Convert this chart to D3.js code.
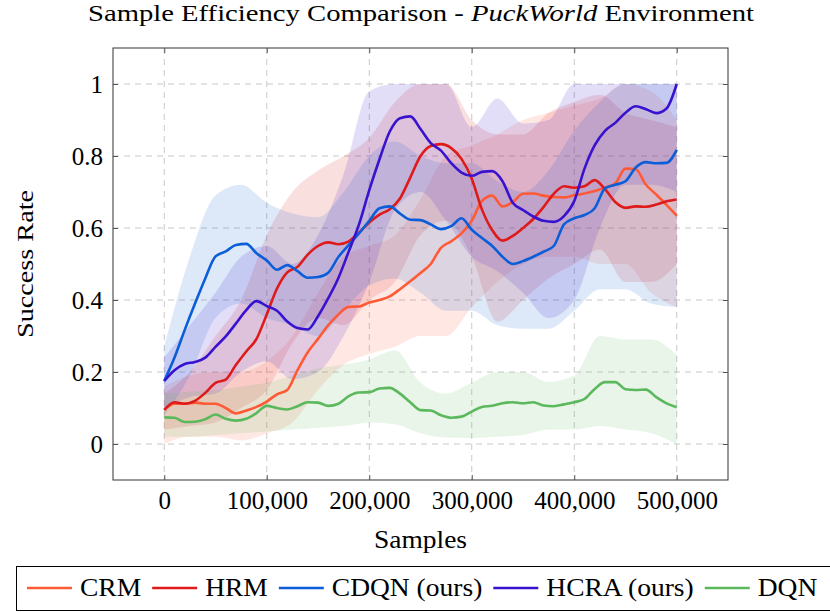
<!DOCTYPE html>
<html>
<head>
<meta charset="utf-8">
<script src="https://cdn.jsdelivr.net/npm/d3@7"></script>
<style>
  body { margin: 0; background: #fff; }
  text { font-family: "Liberation Serif", "DejaVu Serif", serif; fill: #000; }
</style>
</head>
<body>
<script>
var width = 830;
var height = 612;

// samples in thousands
var samplesK = [0,10,20,30,40,50,60,70,80,90,100,110,120,130,140,150,160,170,180,190,200,
  210,220,230,240,250,260,270,280,290,300,310,320,330,340,350,360,370,380,390,400,
  410,420,430,440,450,460,470,480,490,500];
var bandK = [0,25,50,75,100,125,150,175,200,225,250,275,300,325,350,375,400,425,450,475,500];

var crm = [0.095,0.112,0.112,0.115,0.112,0.112,0.1,0.085,0.093,0.103,0.118,0.138,0.15,0.205,0.255,0.292,0.33,0.36,0.381,0.382,0.393,
  0.4,0.41,0.43,0.452,0.475,0.5,0.545,0.563,0.585,0.62,0.675,0.69,0.66,0.672,0.695,0.696,0.69,0.686,0.685,0.691,
  0.696,0.703,0.712,0.724,0.765,0.763,0.72,0.693,0.664,0.634];
var hrm = [0.095,0.116,0.112,0.12,0.142,0.17,0.179,0.22,0.257,0.292,0.36,0.432,0.477,0.492,0.526,0.55,0.56,0.555,0.563,0.587,0.615,
  0.637,0.652,0.682,0.74,0.8,0.828,0.833,0.822,0.792,0.737,0.651,0.594,0.565,0.578,0.6,0.625,0.658,0.695,0.716,0.712,
  0.716,0.733,0.708,0.672,0.656,0.66,0.659,0.665,0.674,0.679];
var cdqn = [0.175,0.24,0.317,0.39,0.46,0.521,0.535,0.553,0.556,0.53,0.51,0.484,0.497,0.48,0.462,0.464,0.476,0.52,0.553,0.585,0.62,
  0.655,0.66,0.64,0.623,0.622,0.61,0.597,0.605,0.627,0.595,0.572,0.55,0.52,0.5,0.508,0.52,0.534,0.55,0.61,0.627,
  0.636,0.655,0.71,0.72,0.73,0.768,0.783,0.78,0.781,0.817];
var hcra = [0.175,0.205,0.222,0.228,0.24,0.27,0.299,0.335,0.372,0.397,0.383,0.37,0.34,0.322,0.318,0.355,0.405,0.462,0.535,0.61,0.705,
  0.791,0.868,0.905,0.91,0.875,0.836,0.815,0.78,0.754,0.745,0.756,0.758,0.73,0.67,0.65,0.632,0.62,0.617,0.633,0.675,
  0.765,0.83,0.87,0.892,0.92,0.938,0.93,0.919,0.932,1.0];
var dqn = [0.074,0.073,0.061,0.062,0.069,0.082,0.07,0.065,0.07,0.086,0.106,0.1,0.096,0.105,0.116,0.115,0.106,0.112,0.133,0.143,0.144,
  0.154,0.156,0.14,0.116,0.094,0.093,0.08,0.073,0.076,0.09,0.103,0.106,0.113,0.116,0.113,0.116,0.107,0.105,0.11,0.116,
  0.125,0.153,0.172,0.172,0.152,0.15,0.151,0.13,0.113,0.102];

// spread bands (on bandK)
var crmLo = [0.0,0.02,0.02,0.01,0.03,0.06,0.15,0.22,0.25,0.27,0.3,0.3,0.38,0.45,0.5,0.52,0.52,0.5,0.5,0.42,0.38];
var crmHi = [0.16,0.19,0.2,0.2,0.23,0.3,0.42,0.52,0.55,0.58,0.68,0.8,0.83,0.86,0.9,0.92,0.94,0.96,1.0,0.98,0.9];
var hrmLo = [0.04,0.05,0.06,0.1,0.15,0.28,0.35,0.33,0.4,0.45,0.58,0.62,0.52,0.34,0.4,0.46,0.5,0.54,0.45,0.45,0.5];
var hrmHi = [0.14,0.2,0.3,0.4,0.58,0.7,0.76,0.8,0.85,0.95,1.0,1.0,0.9,0.86,0.86,0.92,0.95,0.97,0.92,0.9,0.88];
var cdqnLo = [0.08,0.19,0.35,0.39,0.35,0.33,0.3,0.37,0.44,0.46,0.42,0.37,0.37,0.33,0.32,0.32,0.37,0.43,0.43,0.39,0.38];
var cdqnHi = [0.27,0.52,0.69,0.72,0.67,0.64,0.63,0.7,0.8,0.84,0.8,0.78,0.78,0.73,0.7,0.76,0.87,0.95,1.0,1.0,1.0];
var hcraLo = [0.1,0.13,0.14,0.2,0.23,0.18,0.2,0.3,0.45,0.65,0.7,0.62,0.52,0.48,0.42,0.35,0.4,0.6,0.72,0.72,0.7];
var hcraHi = [0.24,0.33,0.42,0.52,0.55,0.5,0.58,0.75,0.98,1.0,1.0,1.0,0.88,0.96,0.89,0.9,1.0,1.0,1.0,1.0,1.0];
var dqnLo = [0.02,0.02,0.025,0.03,0.035,0.04,0.045,0.05,0.06,0.055,0.03,0.018,0.017,0.02,0.025,0.04,0.04,0.05,0.04,0.03,0.0];
var dqnHi = [0.14,0.145,0.15,0.16,0.17,0.19,0.21,0.22,0.235,0.26,0.17,0.14,0.17,0.2,0.2,0.172,0.19,0.3,0.29,0.29,0.247];

var names = ["CRM", "HRM", "CDQN (ours)", "HCRA (ours)", "DQN"];
var colors = ["#ff5a36", "#de1a1a", "#0b5ed7", "#3912cf", "#5cb85c"];
var means = [crm, hrm, cdqn, hcra, dqn];
var lows = [crmLo, hrmLo, cdqnLo, hcraLo, dqnLo];
var highs = [crmHi, hrmHi, cdqnHi, hcraHi, dqnHi];

var xTicks = [0, 100000, 200000, 300000, 400000, 500000];
var yTicks = [0, 0.2, 0.4, 0.6, 0.8, 1];

var plot = {left: 113, right: 728, top: 48, bottom: 480};

var svg = d3.select("body")
  .append("svg")
  .attr("width", width)
  .attr("height", height);

var x = d3.scaleLinear().domain([-50000, 550000]).range([plot.left, plot.right]);
var y = d3.scaleLinear().domain([-0.1, 1.1]).range([plot.bottom, plot.top]);

// grid
var grid = svg.append("g").attr("stroke", "#c8c8c8").attr("stroke-width", 1).attr("stroke-dasharray", "6,5");
grid.selectAll(".gx").data(xTicks).enter().append("line")
  .attr("x1", d => x(d)).attr("x2", d => x(d))
  .attr("y1", plot.top).attr("y2", plot.bottom);
grid.selectAll(".gy").data(yTicks).enter().append("line")
  .attr("y1", d => y(d)).attr("y2", d => y(d))
  .attr("x1", plot.left).attr("x2", plot.right);

// bands
var area = d3.area()
  .x((d, i) => x(bandK[i] * 1000))
  .y0(d => y(d[0]))
  .y1(d => y(d[1]))
  .curve(d3.curveMonotoneX);

for (var s = 0; s < 5; s++) {
  var pts = bandK.map((k, i) => [lows[s][i], highs[s][i]]);
  svg.append("path")
    .datum(pts)
    .attr("fill", colors[s])
    .attr("fill-opacity", 0.14)
    .attr("d", area);
}

// lines
var line = d3.line()
  .x((d, i) => x(samplesK[i] * 1000))
  .y(d => y(d))
  .curve(d3.curveMonotoneX);

for (var s = 0; s < 5; s++) {
  svg.append("path")
    .datum(means[s])
    .attr("fill", "none")
    .attr("stroke", colors[s])
    .attr("stroke-width", 2.6)
    .attr("stroke-linejoin", "round")
    .attr("d", line);
}

// frame + inward ticks (pgfplots style)
svg.append("rect")
  .attr("x", plot.left).attr("y", plot.top)
  .attr("width", plot.right - plot.left).attr("height", plot.bottom - plot.top)
  .attr("fill", "none").attr("stroke", "#333").attr("stroke-width", 1);

var axisBottom = d3.axisBottom(x).tickValues(xTicks).tickSize(-5).tickPadding(11).tickFormat(d3.format(","));
var axisTop = d3.axisTop(x).tickValues(xTicks).tickSize(-5).tickFormat("");
var axisLeft = d3.axisLeft(y).tickValues(yTicks).tickSize(-5).tickPadding(10).tickFormat(d => String(Math.round(d * 10) / 10));
var axisRight = d3.axisRight(y).tickValues(yTicks).tickSize(-5).tickFormat("");

[
  [axisBottom, "translate(0," + plot.bottom + ")"],
  [axisTop, "translate(0," + plot.top + ")"],
  [axisLeft, "translate(" + plot.left + ",0)"],
  [axisRight, "translate(" + plot.right + ",0)"]
].forEach(function(a) {
  var g = svg.append("g").attr("transform", a[1]).call(a[0]);
  g.select(".domain").remove();
  g.selectAll(".tick line").attr("stroke", "#555");
  g.selectAll("text").attr("font-size", 25).attr("font-family", "Liberation Serif, serif").attr("fill", "#000");
});

// titles
var title = svg.append("text")
  .attr("x", 421).attr("y", 21)
  .attr("text-anchor", "middle").attr("font-size", 23)
  .attr("textLength", 666).attr("lengthAdjust", "spacingAndGlyphs");
title.append("tspan").text("Sample Efficiency Comparison - ");
title.append("tspan").attr("font-style", "italic").text("PuckWorld");
title.append("tspan").text(" Environment");

svg.append("text")
  .attr("x", (plot.left + plot.right) / 2).attr("y", 548)
  .attr("text-anchor", "middle").attr("font-size", 25)
  .attr("textLength", 93).attr("lengthAdjust", "spacingAndGlyphs")
  .text("Samples");

svg.append("text")
  .attr("transform", "translate(33," + ((plot.top + plot.bottom) / 2) + ") rotate(-90)")
  .attr("text-anchor", "middle").attr("font-size", 24)
  .attr("textLength", 148).attr("lengthAdjust", "spacingAndGlyphs")
  .text("Success Rate");

// legend
var legend = svg.append("g");
legend.append("rect")
  .attr("x", 16.5).attr("y", 566.5).attr("width", 830).attr("height", 44)
  .attr("fill", "#fff").attr("stroke", "#000").attr("stroke-width", 1);

var lx = 27;
names.forEach(function(n, i) {
  legend.append("line")
    .attr("x1", lx).attr("x2", lx + 45)
    .attr("y1", 588).attr("y2", 588)
    .attr("stroke", colors[i]).attr("stroke-width", 2.6);
  var t = legend.append("text")
    .attr("x", lx + 53).attr("y", 596)
    .attr("font-size", 25)
    .text(n);
  var w = t.node().getComputedTextLength() * 1.1;
  t.attr("textLength", w).attr("lengthAdjust", "spacingAndGlyphs");
  lx += 53 + w + 11;
});
</script>
</body>
</html>
